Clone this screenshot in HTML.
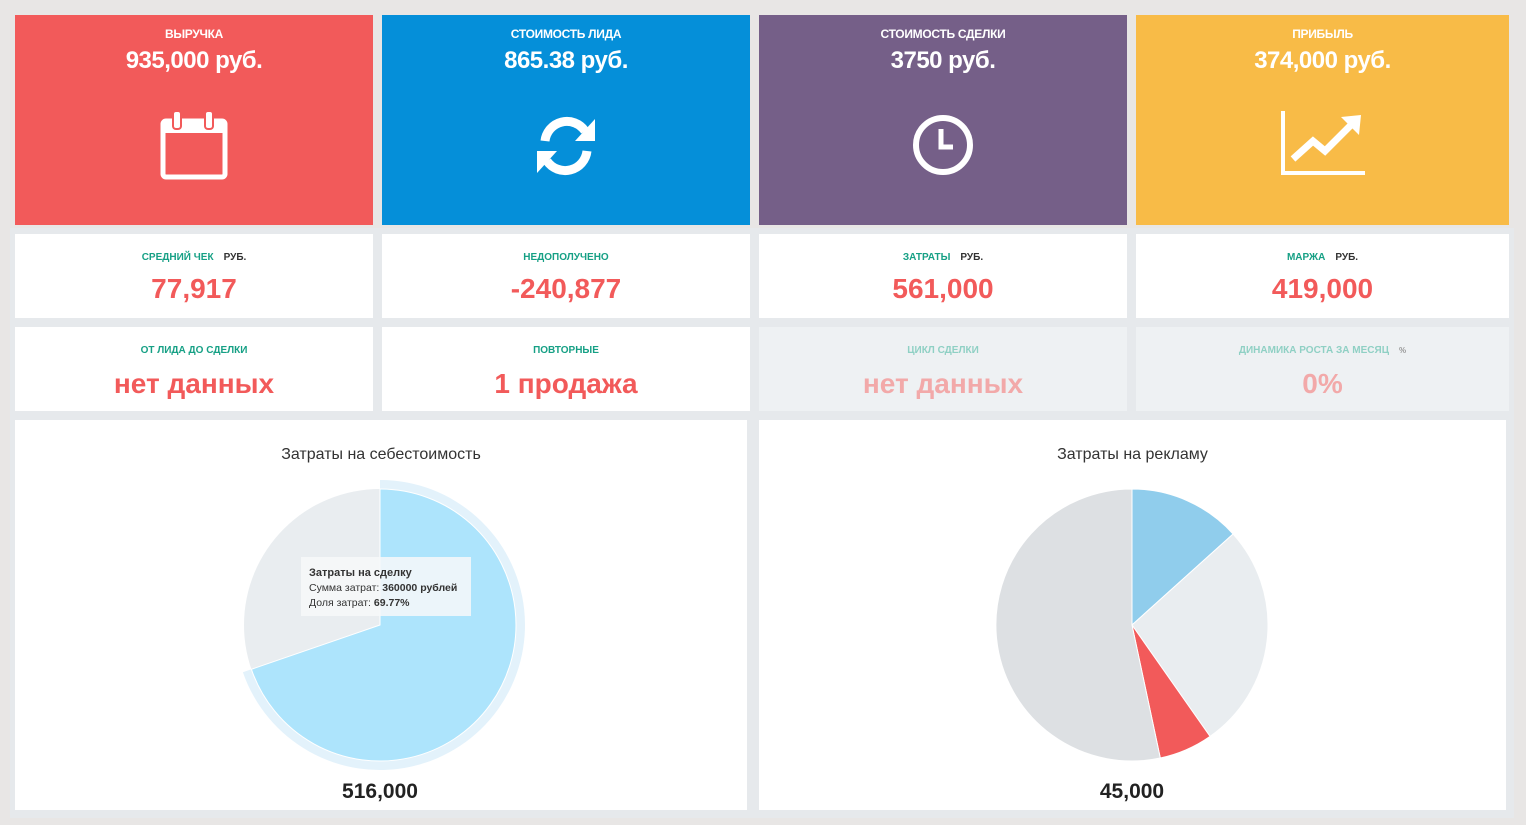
<!DOCTYPE html>
<html><head><meta charset="utf-8"><style>
*{margin:0;padding:0;box-sizing:border-box}
body{width:1526px;height:825px;background:#e8e6e5;font-family:"Liberation Sans",sans-serif;position:relative;overflow:hidden}
.c{position:absolute;text-align:center}
.big{color:#fff}
.t1{font-size:12px;font-weight:bold;margin-top:12px;letter-spacing:-0.3px}
.v1{font-size:24px;font-weight:bold;margin-top:6px;letter-spacing:-0.5px}
.w{background:#fff}
.lab{font-size:10px;font-weight:bold;color:#16a085;margin-top:18px}
.lab span{color:#333;margin-left:10px}
.val{font-size:28px;font-weight:bold;color:#f25a5a;margin-top:10px}
.f{background:#eef1f3}
.f .lab{color:#8fd0c4}.f .val{color:#f2a9a9}
.ct{font-size:16px;color:#333;margin-top:26px}
.tot{position:absolute;font-size:21px;font-weight:bold;color:#222;text-align:center}
</style></head><body>
<div style="position:absolute;left:10px;top:228px;width:1504px;height:590px;background:#e6e9ec"></div>
<div class="c big" style="left:15px;top:15px;width:358px;height:210px;background:#f25a5a"><div class="t1">ВЫРУЧКА</div><div class="v1">935,000 руб.</div>
<svg width="70" height="72" style="margin-top:34px" viewBox="0 0 70 72"><rect x="4" y="12" width="62" height="56" rx="3" fill="none" stroke="#fff" stroke-width="5"/><rect x="4" y="12" width="62" height="12" fill="#fff"/><rect x="14" y="2" width="8" height="18" rx="3" fill="#fff" stroke="#f25a5a" stroke-width="2"/><rect x="46" y="2" width="8" height="18" rx="3" fill="#fff" stroke="#f25a5a" stroke-width="2"/></svg></div>
<div class="c big" style="left:382px;top:15px;width:368px;height:210px;background:#058fd9"><div class="t1">СТОИМОСТЬ ЛИДА</div><div class="v1">865.38 руб.</div>
<svg width="66" height="66" style="margin-top:38px" viewBox="0 0 66 66"><path d="M12 28 A22 22 0 0 1 52 18" fill="none" stroke="#fff" stroke-width="9"/><polygon points="62,6 62,28 42,28" fill="#fff"/><path d="M54 38 A22 22 0 0 1 14 48" fill="none" stroke="#fff" stroke-width="9"/><polygon points="4,60 4,38 24,38" fill="#fff"/></svg></div>
<div class="c big" style="left:759px;top:15px;width:368px;height:210px;background:#755f88"><div class="t1">СТОИМОСТЬ СДЕЛКИ</div><div class="v1">3750 руб.</div>
<svg width="64" height="64" style="margin-top:38px" viewBox="0 0 64 64"><circle cx="32" cy="32" r="27" fill="none" stroke="#fff" stroke-width="6"/><path d="M30 16 V34 H42" fill="none" stroke="#fff" stroke-width="5"/></svg></div>
<div class="c big" style="left:1136px;top:15px;width:373px;height:210px;background:#f8bb47"><div class="t1">ПРИБЫЛЬ</div><div class="v1">374,000 руб.</div>
<svg width="84" height="66" style="margin-top:36px" viewBox="0 0 84 66"><path d="M2 0 V62 H84" fill="none" stroke="#fff" stroke-width="4"/><path d="M12 48 L32 30 L44 40 L72 12" fill="none" stroke="#fff" stroke-width="7"/><polygon points="60,6 80,4 78,24" fill="#fff"/></svg></div>

<div class="c w" style="left:15px;top:234px;width:358px;height:84px"><div class="lab">СРЕДНИЙ ЧЕК<span>РУБ.</span></div><div class="val">77,917</div></div>
<div class="c w" style="left:382px;top:234px;width:368px;height:84px"><div class="lab">НЕДОПОЛУЧЕНО</div><div class="val">-240,877</div></div>
<div class="c w" style="left:759px;top:234px;width:368px;height:84px"><div class="lab">ЗАТРАТЫ<span>РУБ.</span></div><div class="val">561,000</div></div>
<div class="c w" style="left:1136px;top:234px;width:373px;height:84px"><div class="lab">МАРЖА<span>РУБ.</span></div><div class="val">419,000</div></div>

<div class="c w" style="left:15px;top:327px;width:358px;height:84px"><div class="lab">ОТ ЛИДА ДО СДЕЛКИ</div><div class="val" style="margin-top:12px">нет данных</div></div>
<div class="c w" style="left:382px;top:327px;width:368px;height:84px"><div class="lab">ПОВТОРНЫЕ</div><div class="val" style="margin-top:12px">1 продажа</div></div>
<div class="c f" style="left:759px;top:327px;width:368px;height:84px"><div class="lab">ЦИКЛ СДЕЛКИ</div><div class="val" style="margin-top:12px">нет данных</div></div>
<div class="c f" style="left:1136px;top:327px;width:373px;height:84px"><div class="lab">ДИНАМИКА РОСТА ЗА МЕСЯЦ<span style="color:#999;font-size:8px">%</span></div><div class="val" style="margin-top:12px">0%</div></div>

<div class="c w" style="left:15px;top:420px;width:732px;height:390px"><div class="ct">Затраты на себестоимость</div></div>
<div class="c w" style="left:759px;top:420px;width:747px;height:390px"><div class="ct">Затраты на рекламу</div></div>

<svg style="position:absolute;left:0;top:0" width="1526" height="825">
<circle cx="380" cy="625" r="136" fill="#e9edf0"/>
<path d="M380,480 A145,145 0 1 1 242.9,672.2 L251.4,669.3 A136,136 0 1 0 380,489 Z" fill="#e3f2fb"/>
<path d="M380,625 L380,489 A136,136 0 1 1 251.4,669.3 Z" fill="#ade4fc" stroke="#fff" stroke-width="1"/>
<path d="M1132,625 L1132,489 A136,136 0 0 1 1233.1,534 Z" fill="#90cdec" stroke="#fff" stroke-width="1"/>
<path d="M1132,625 L1233.1,534 A136,136 0 0 1 1210,736.4 Z" fill="#e9edf0" stroke="#fff" stroke-width="1"/>
<path d="M1132,625 L1210,736.4 A136,136 0 0 1 1160.3,758 Z" fill="#f25a5a" stroke="#fff" stroke-width="1"/>
<path d="M1132,625 L1160.3,758 A136,136 0 1 1 1132,489 Z" fill="#dde0e3" stroke="#fff" stroke-width="1"/>
<rect x="301" y="557" width="170" height="59" fill="#f7f8f9" fill-opacity="0.85"/>
<text x="309" y="576" font-size="11" font-weight="bold" fill="#333" font-family="Liberation Sans">Затраты на сделку</text>
<text x="309" y="591" font-size="10.5" fill="#333" font-family="Liberation Sans">Сумма затрат: <tspan font-weight="bold">360000 рублей</tspan></text>
<text x="309" y="606" font-size="10.5" fill="#333" font-family="Liberation Sans">Доля затрат: <tspan font-weight="bold">69.77%</tspan></text>
</svg>
<div class="tot" style="left:280px;top:780px;width:200px">516,000</div>
<div class="tot" style="left:1032px;top:780px;width:200px">45,000</div>
</body></html>
